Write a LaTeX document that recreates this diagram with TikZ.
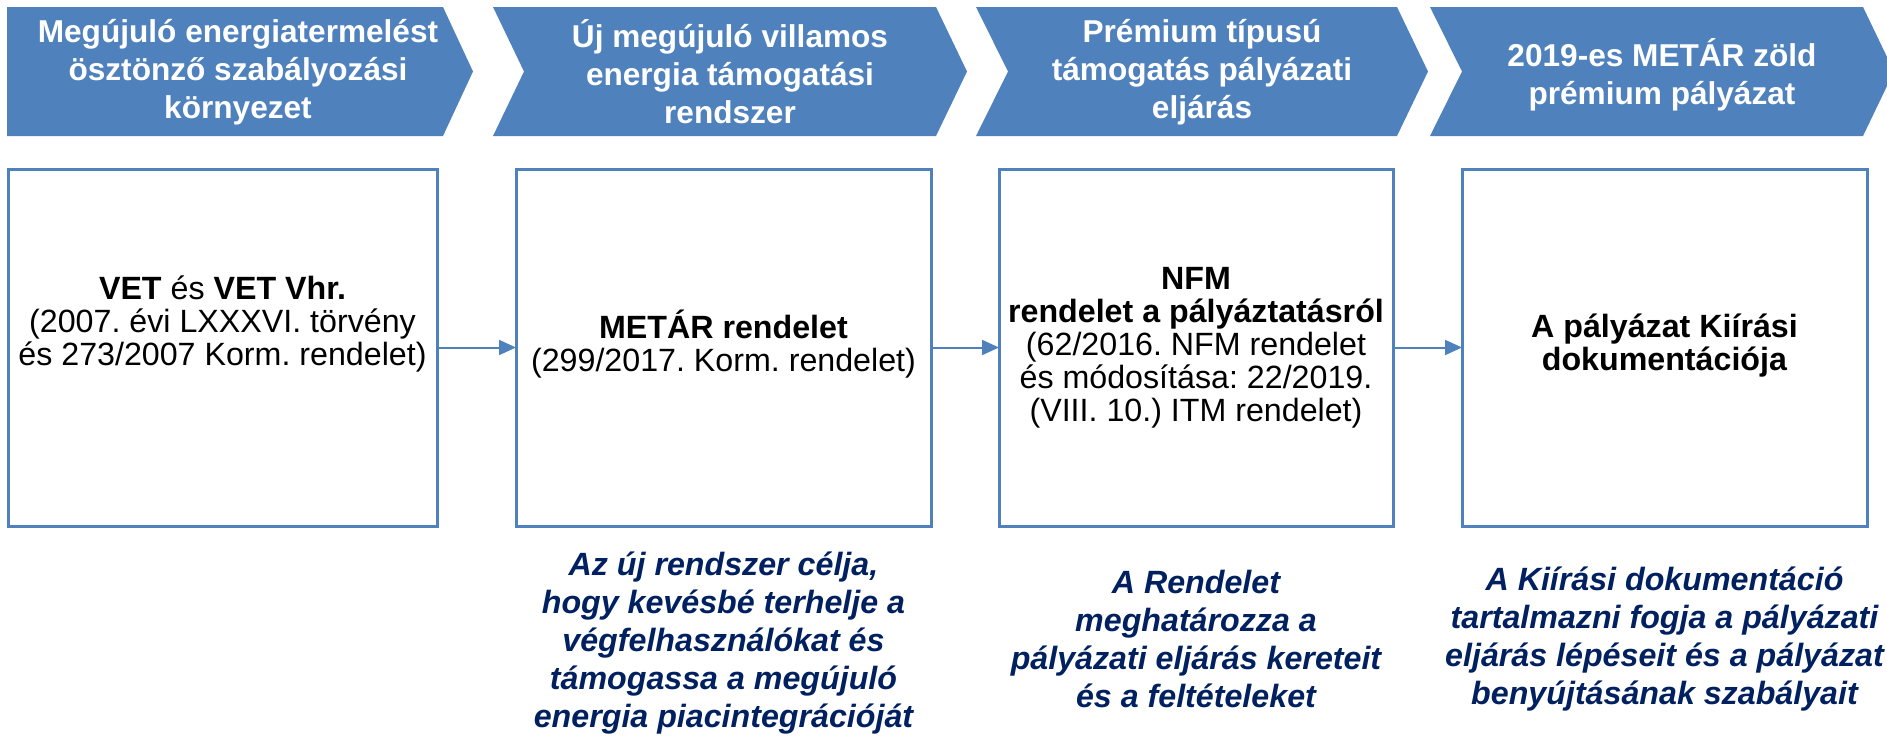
\documentclass[tikz,border=0pt]{standalone}
\usepackage{fontspec}
\setmainfont{Liberation Sans}
\usetikzlibrary{arrows.meta}
\definecolor{cblue}{HTML}{4F81BD}
\definecolor{navy}{HTML}{002060}
\frenchspacing
\begin{document}
\begin{tikzpicture}[x=1pt,y=-1pt,
  chev/.style={fill=cblue, draw=none},
  chevtext/.style={text=white, font=\fontsize{31.6}{38}\selectfont\bfseries, align=center, inner sep=0pt},
  box/.style={draw=cblue, line width=3pt, minimum height=357pt, inner sep=0pt, outer sep=0pt},
  boxtext/.style={font=\fontsize{32.2}{33}\selectfont, align=center, inner sep=0pt},
  note/.style={text=navy, font=\fontsize{32.2}{38}\selectfont\bfseries\itshape, align=center, inner sep=0pt},
  arr/.style={draw=cblue, line width=2pt, -{Triangle[length=17pt,width=15pt]}}]
\useasboundingbox (0,0) rectangle (1887,736);
\clip (0,0) rectangle (1887,736);
% chevrons
\fill[chev] (7,7) -- (443,7) -- (473,71.5) -- (443,136) -- (7,136) -- cycle;
\fill[chev] (493,7) -- (936,7) -- (967,71.5) -- (936,136) -- (493,136) -- (524,71.5) -- cycle;
\fill[chev] (976,7) -- (1397,7) -- (1428,71.5) -- (1397,136) -- (976,136) -- (1008,71.5) -- cycle;
\fill[chev] (1430,7) -- (1863,7) -- (1894,71.5) -- (1863,136) -- (1430,136) -- (1462,71.5) -- cycle;
\node[chevtext] (c1) at (238,72) {Megújuló energiatermelést\\ösztönző szabályozási\\környezet};
\node[chevtext] (c2) at (730,72) {Új megújuló villamos\\energia támogatási\\rendszer};
\node[chevtext] (c3) at (1202,72) {Prémium típusú\\támogatás pályázati\\eljárás};
\node[chevtext] (c4) at (1662,75) {2019-es METÁR zöld\\prémium pályázat};
% boxes
\node[box, minimum width=429pt] (b1) at (222.5,347.5) {};
\node[box, minimum width=415pt] (b2) at (723.5,347.5) {};
\node[box, minimum width=394pt] (b3) at (1196,347.5) {};
\node[box, minimum width=405pt] (b4) at (1664.5,347.5) {};
\node[boxtext] (t1) at (222.5,324) {\textbf{VET} és \textbf{VET Vhr.}\\(2007. évi LXXXVI. törvény\\és 273/2007 Korm. rendelet)};
\node[boxtext] (t2) at (723.5,344) {\textbf{METÁR rendelet}\\(299/2017. Korm. rendelet)};
\node[boxtext] (t3) at (1196,348) {\textbf{NFM}\\\textbf{rendelet a pályáztatásról}\\(62/2016. NFM rendelet\\és módosítása: 22/2019.\\(VIII. 10.) ITM rendelet)};
\node[boxtext] (t4) at (1664.5,346) {\textbf{A pályázat Kiírási}\\\textbf{dokumentációja}};
% arrows
\draw[arr] (b1) -- (b2);
\draw[arr] (b2) -- (b3);
\draw[arr] (b3) -- (b4);
% notes
\node[note] (n2) at (723.5,643) {Az új rendszer célja,\\hogy kevésbé terhelje a\\végfelhasználókat és\\támogassa a megújuló\\energia piacintegrációját};
\node[note] (n3) at (1196,639) {A Rendelet\\meghatározza a\\pályázati eljárás kereteit\\és a feltételeket};
\node[note] (n4) at (1664.5,639) {A Kiírási dokumentáció\\tartalmazni fogja a pályázati\\eljárás lépéseit és a pályázat\\benyújtásának szabályait};
\end{tikzpicture}
\end{document}
